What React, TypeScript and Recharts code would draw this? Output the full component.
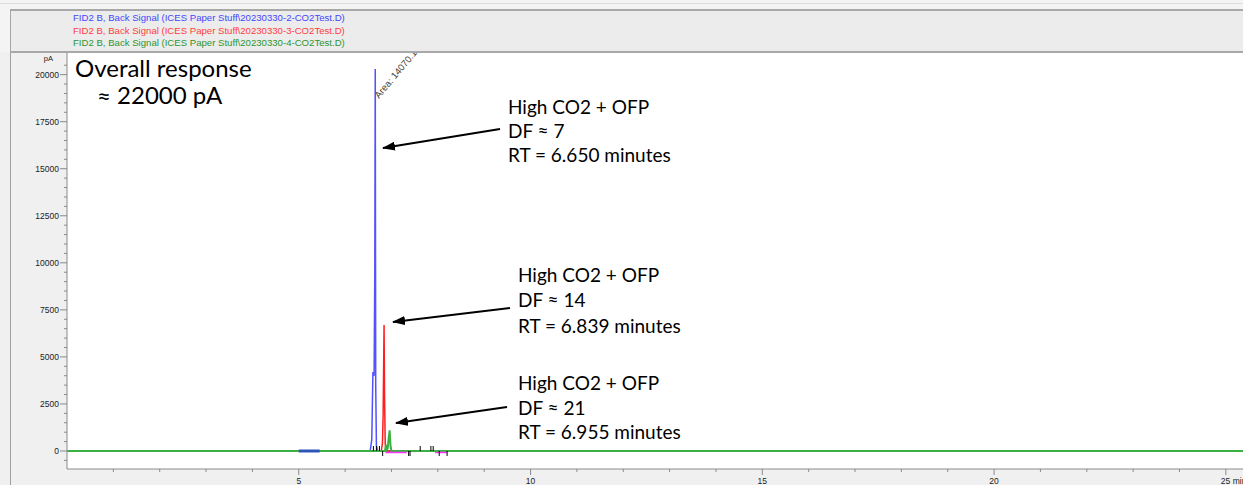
import React from 'react';
import { ComposedChart, Line, Scatter, XAxis, YAxis, CartesianGrid } from 'recharts';

const legendLabels = [
  'FID2 B, Back Signal (ICES Paper Stuff\\20230330-2-CO2Test.D)',
  'FID2 B, Back Signal (ICES Paper Stuff\\20230330-3-CO2Test.D)',
  'FID2 B, Back Signal (ICES Paper Stuff\\20230330-4-CO2Test.D)',
];
const legendColors = ['#4646ff', '#ff3c3c', '#2e962e'];
const seriesColors = ['#5252ff', '#ff1e1e', '#3cb043'];

// retention time (min) and signal (pA)
const run2Time = [0, 6.54, 6.575, 6.6, 6.625, 6.64, 6.65, 6.66, 6.675, 6.7, 25.4];
const run2Signal = [0, 0, 600, 4200, 4000, 9500, 20300, 3500, 300, 0, 0];
const run3Time = [0, 6.78, 6.805, 6.82, 6.84, 6.85, 6.865, 6.885, 25.4];
const run3Signal = [0, 0, 400, 1900, 6700, 3000, 400, 0, 0];
const run4Time = [0, 6.86, 6.88, 6.9, 6.92, 6.94, 6.96, 6.98, 7.0, 25.4];
const run4Signal = [0, 0, 320, 60, 150, 700, 1100, 250, 0, 0];

// baseline markers and integration events
const blueBarTime = [5.0, 5.45];
const blueBarSignal = [0, 0];
const magentaTime = [6.87, 7.33, 7.6, 7.94, 8.2];
const magentaSignal = [-80, -80, null, -80, -80];
const eventTimes = [6.61, 6.675, 6.74, 6.81, 7.37, 7.4, 7.62, 7.85, 7.9, 8.03, 8.2];
const eventDir = [1, 1, 1, -1, -1, -1, 1, 1, 1, -1, -1];

const xTicks = [1, 2, 3, 4, 5, 6, 7, 8, 9, 10, 11, 12, 13, 14, 15, 16, 17, 18, 19, 20, 21, 22, 23, 24, 25];
const yMajor = [0, 2500, 5000, 7500, 10000, 12500, 15000, 17500, 20000];
const yTicks = Array.from({ length: 44 }, (_, i) => -500 + i * 500);

const zip = (t: number[], v: (number | null)[]) => t.map((x, i) => ({ t: x, v: v[i] }));

const XTick = (props: any) => {
  const { x, y, payload } = props;
  const v = payload.value;
  const major = v % 5 === 0;
  return (
    <g>
      <line x1={x} x2={x} y1={y} y2={y + (major ? 6 : 3)} stroke="#8a8a8a" />
      {major && (
        <text x={v === 25 ? x - 5 : x} y={y + 15} textAnchor={v === 25 ? 'start' : 'middle'}
          fontSize={8.5} fontFamily="Liberation Sans" fill="#222">
          {v === 25 ? '25 min' : v}
        </text>
      )}
    </g>
  );
};

const YTick = (props: any) => {
  const { x, y, payload } = props;
  const v = payload.value;
  const major = yMajor.includes(v);
  if (v === 21000) {
    return (
      <text x={x - 14} y={y + 5} textAnchor="end" fontSize={7.5} fontFamily="Liberation Sans" fill="#222">pA</text>
    );
  }
  return (
    <g>
      <line x1={x - (major ? 7 : 3)} x2={x} y1={y} y2={y} stroke="#8a8a8a" />
      {major && (
        <text x={x - 8} y={y + 3} textAnchor="end" fontSize={8.5} fontFamily="Liberation Sans" fill="#222">{v}</text>
      )}
    </g>
  );
};

const EventMark = (props: any) => {
  const { cx, cy, payload } = props;
  return <line x1={cx} x2={cx} y1={cy} y2={cy - payload.dir * 5} stroke="#000" strokeWidth={1} />;
};

const note = { fontFamily: 'Lato', fontSize: 19, fill: '#000' };
const bigNote = { fontFamily: 'Lato', fontSize: 24, fill: '#000' };

export default function App() {
  const events = eventTimes.map((t, i) => ({ t, v: 0, dir: eventDir[i] }));
  return (
    <div style={{ position: 'absolute', left: 0, top: 0, width: 1243, height: 485, background: '#f0f0f0', overflow: 'hidden' }}>
      <ComposedChart width={1243} height={485} margin={{ top: 53, right: 0, bottom: 0, left: 8 }}>
        <CartesianGrid horizontal={false} vertical={false} fill="#ffffff" />
        <XAxis dataKey="t" type="number" domain={[0, 25.37]} allowDataOverflow ticks={xTicks} interval={0}
          height={16} tickSize={0} tickMargin={0} tickLine={false} tick={<XTick />} axisLine={{ stroke: '#8a8a8a' }} />
        <YAxis type="number" domain={[-957, 21150]} allowDataOverflow ticks={yTicks} interval={0}
          width={59} tickSize={0} tickMargin={0} tickLine={false} tick={<YTick />} axisLine={{ stroke: '#8a8a8a' }} />
        <Line data={zip(run2Time, run2Signal)} dataKey="v" type="linear" dot={false} stroke={seriesColors[0]} strokeWidth={1.5} isAnimationActive={false} />
        <Line data={zip(run3Time, run3Signal)} dataKey="v" type="linear" dot={false} stroke={seriesColors[1]} strokeWidth={1.5} isAnimationActive={false} />
        <Line data={zip(run4Time, run4Signal)} dataKey="v" type="linear" dot={false} stroke={seriesColors[2]} strokeWidth={2} isAnimationActive={false} />
        <Line data={zip(blueBarTime, blueBarSignal)} dataKey="v" type="linear" dot={false} stroke="#2f55b8" strokeWidth={3} isAnimationActive={false} />
        <Line data={zip(magentaTime, magentaSignal)} dataKey="v" type="linear" dot={false} stroke="#ff33ff" strokeWidth={1.5} isAnimationActive={false} />
        <Scatter data={events} dataKey="v" shape={<EventMark />} isAnimationActive={false} />
      </ComposedChart>

      <svg width={1243} height={485} style={{ position: 'absolute', left: 0, top: 0, pointerEvents: 'none' }}>
        <defs>
          <marker id="ah" markerWidth={13} markerHeight={9} refX={12} refY={4.5} orient="auto" markerUnits="userSpaceOnUse">
            <path d="M0,0 L13,4.5 L0,9 z" fill="#000" />
          </marker>
        </defs>
        <text x={379} y={99} transform="rotate(-50 379 99)" fontSize={9.5} fontFamily="Liberation Sans" fill="#4a3c2c">Area: 14070.1</text>
        <text x={75} y={77} {...bigNote}>Overall response</text>
        <text x={97} y={104} {...bigNote}>≈ 22000 pA</text>

        <text x={508} y={114} {...note}>High CO2 + OFP</text>
        <text x={508} y={138} {...note}>DF ≈ 7</text>
        <text x={508} y={162} {...note}>RT = 6.650 minutes</text>
        <line x1={500} y1={129} x2={383} y2={148} stroke="#000" strokeWidth={2} markerEnd="url(#ah)" />

        <text x={518} y={282} {...note}>High CO2 + OFP</text>
        <text x={518} y={307} {...note}>DF ≈ 14</text>
        <text x={518} y={333} {...note}>RT = 6.839 minutes</text>
        <line x1={510} y1={308} x2={393} y2={322} stroke="#000" strokeWidth={2} markerEnd="url(#ah)" />

        <text x={518} y={390} {...note}>High CO2 + OFP</text>
        <text x={518} y={415} {...note}>DF ≈ 21</text>
        <text x={518} y={439} {...note}>RT = 6.955 minutes</text>
        <line x1={507} y1={407} x2={396} y2={423} stroke="#000" strokeWidth={2} markerEnd="url(#ah)" />
      </svg>

      <div style={{ position: 'absolute', left: 10, top: 52, width: 1, height: 433, background: '#a0a0a0' }} />
      <div style={{ position: 'absolute', left: 0, top: 0, width: 1243, height: 52, background: '#f4f4f4' }}>
        <div style={{ position: 'absolute', left: 0, top: 3, width: 1243, height: 1, background: '#dedede' }} />
        <div style={{
          position: 'absolute', left: 10, top: 9, width: 1233, height: 40, background: '#ececec',
          borderTop: '2px solid #a8a8a8', borderBottom: '2px solid #a8a8a8', borderLeft: '1px solid #a8a8a8',
        }}>
          {legendLabels.map((s, i) => (
            <div key={i} style={{
              position: 'absolute', left: 62, top: 1 + i * 12.7, fontFamily: 'Liberation Sans', fontSize: 9.6,
              lineHeight: '12px', color: legendColors[i], whiteSpace: 'nowrap',
            }}>{s}</div>
          ))}
        </div>
      </div>
    </div>
  );
}
